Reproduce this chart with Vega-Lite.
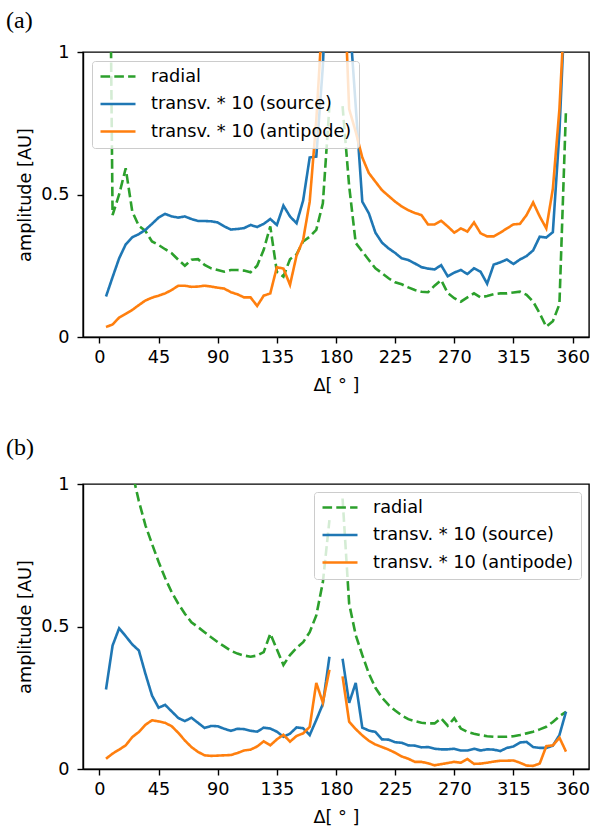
{
"$schema": "https://vega.github.io/schema/vega-lite/v6.json",
"background": "white",
"padding": {"left": 5, "top": 8, "right": 2, "bottom": 2},
"config": {
  "font": "DejaVu Sans",
  "view": {"stroke": "black", "strokeWidth": 1.4},
  "axis": {"grid": false, "domainColor": "black", "domainWidth": 1.4, "tickColor": "black", "tickWidth": 1.4, "tickSize": 6, "labelFontSize": 17.7, "labelColor": "black", "titleFontSize": 17.7, "titleFontWeight": "normal", "titleColor": "black", "labelFont": "DejaVu Sans", "titleFont": "DejaVu Sans", "labelFlush": false},
  "axisX": {"labelPadding": 5, "titlePadding": 11},
  "axisY": {"labelPadding": 8, "titlePadding": 6},
  "legend": {"labelFontSize": 17.7, "labelColor": "black", "labelFont": "DejaVu Sans"},
  "concat": {"spacing": 38}
},
"datasets": {
"a": [
{"d":5,"k":"r","v":2.9},{"d":10,"k":"r","v":0.428},{"d":15,"k":"r","v":0.5},{"d":20,"k":"r","v":0.592},{"d":25,"k":"r","v":0.44},{"d":30,"k":"r","v":0.39},{"d":35,"k":"r","v":0.372},{"d":40,"k":"r","v":0.335},{"d":45,"k":"r","v":0.323},{"d":50,"k":"r","v":0.308},{"d":55,"k":"r","v":0.294},{"d":60,"k":"r","v":0.271},{"d":65,"k":"r","v":0.25},{"d":70,"k":"r","v":0.271},{"d":75,"k":"r","v":0.273},{"d":80,"k":"r","v":0.253},{"d":85,"k":"r","v":0.241},{"d":90,"k":"r","v":0.235},{"d":95,"k":"r","v":0.229},{"d":100,"k":"r","v":0.235},{"d":105,"k":"r","v":0.235},{"d":110,"k":"r","v":0.233},{"d":115,"k":"r","v":0.227},{"d":120,"k":"r","v":0.25},{"d":125,"k":"r","v":0.306},{"d":130,"k":"r","v":0.388},{"d":135,"k":"r","v":0.229},{"d":140,"k":"r","v":0.212},{"d":145,"k":"r","v":0.273},{"d":150,"k":"r","v":0.29},{"d":155,"k":"r","v":0.335},{"d":160,"k":"r","v":0.352},{"d":165,"k":"r","v":0.376},{"d":170,"k":"r","v":0.469},{"d":175,"k":"r","v":0.81},{"d":180,"k":"r","v":null},{"d":185,"k":"r","v":0.81},{"d":190,"k":"r","v":0.53},{"d":195,"k":"r","v":0.33},{"d":200,"k":"r","v":0.3},{"d":205,"k":"r","v":0.27},{"d":210,"k":"r","v":0.241},{"d":215,"k":"r","v":0.224},{"d":220,"k":"r","v":0.206},{"d":225,"k":"r","v":0.192},{"d":230,"k":"r","v":0.185},{"d":235,"k":"r","v":0.174},{"d":240,"k":"r","v":0.165},{"d":245,"k":"r","v":0.159},{"d":250,"k":"r","v":0.157},{"d":255,"k":"r","v":0.18},{"d":260,"k":"r","v":0.2},{"d":265,"k":"r","v":0.154},{"d":270,"k":"r","v":0.136},{"d":275,"k":"r","v":0.124},{"d":280,"k":"r","v":0.139},{"d":285,"k":"r","v":0.153},{"d":290,"k":"r","v":0.139},{"d":295,"k":"r","v":0.144},{"d":300,"k":"r","v":0.15},{"d":305,"k":"r","v":0.153},{"d":310,"k":"r","v":0.153},{"d":315,"k":"r","v":0.156},{"d":320,"k":"r","v":0.159},{"d":325,"k":"r","v":0.148},{"d":330,"k":"r","v":0.124},{"d":335,"k":"r","v":0.083},{"d":340,"k":"r","v":0.036},{"d":345,"k":"r","v":0.055},{"d":350,"k":"r","v":0.115},{"d":355,"k":"r","v":0.8},
{"d":5,"k":"s","v":0.142},{"d":10,"k":"s","v":0.21},{"d":15,"k":"s","v":0.276},{"d":20,"k":"s","v":0.325},{"d":25,"k":"s","v":0.35},{"d":30,"k":"s","v":0.361},{"d":35,"k":"s","v":0.376},{"d":40,"k":"s","v":0.397},{"d":45,"k":"s","v":0.419},{"d":50,"k":"s","v":0.432},{"d":55,"k":"s","v":0.423},{"d":60,"k":"s","v":0.419},{"d":65,"k":"s","v":0.423},{"d":70,"k":"s","v":0.414},{"d":75,"k":"s","v":0.407},{"d":80,"k":"s","v":0.407},{"d":85,"k":"s","v":0.406},{"d":90,"k":"s","v":0.402},{"d":95,"k":"s","v":0.388},{"d":100,"k":"s","v":0.377},{"d":105,"k":"s","v":0.379},{"d":110,"k":"s","v":0.382},{"d":115,"k":"s","v":0.393},{"d":120,"k":"s","v":0.386},{"d":125,"k":"s","v":0.397},{"d":130,"k":"s","v":0.414},{"d":135,"k":"s","v":0.393},{"d":140,"k":"s","v":0.461},{"d":145,"k":"s","v":0.423},{"d":150,"k":"s","v":0.399},{"d":155,"k":"s","v":0.479},{"d":160,"k":"s","v":0.63},{"d":165,"k":"s","v":0.633},{"d":170,"k":"s","v":0.95},{"d":175,"k":"s","v":1.5},{"d":180,"k":"s","v":null},{"d":185,"k":"s","v":1.8},{"d":190,"k":"s","v":1.14},{"d":195,"k":"s","v":0.81},{"d":200,"k":"s","v":0.475},{"d":205,"k":"s","v":0.434},{"d":210,"k":"s","v":0.366},{"d":215,"k":"s","v":0.331},{"d":220,"k":"s","v":0.311},{"d":225,"k":"s","v":0.295},{"d":230,"k":"s","v":0.276},{"d":235,"k":"s","v":0.27},{"d":240,"k":"s","v":0.258},{"d":245,"k":"s","v":0.245},{"d":250,"k":"s","v":0.24},{"d":255,"k":"s","v":0.237},{"d":260,"k":"s","v":0.252},{"d":265,"k":"s","v":0.213},{"d":270,"k":"s","v":0.226},{"d":275,"k":"s","v":0.235},{"d":280,"k":"s","v":0.221},{"d":285,"k":"s","v":0.241},{"d":290,"k":"s","v":0.229},{"d":295,"k":"s","v":0.187},{"d":300,"k":"s","v":0.254},{"d":305,"k":"s","v":0.262},{"d":310,"k":"s","v":0.272},{"d":315,"k":"s","v":0.256},{"d":320,"k":"s","v":0.272},{"d":325,"k":"s","v":0.284},{"d":330,"k":"s","v":0.304},{"d":335,"k":"s","v":0.352},{"d":340,"k":"s","v":0.349},{"d":345,"k":"s","v":0.368},{"d":350,"k":"s","v":0.72},{"d":355,"k":"s","v":1.25},
{"d":5,"k":"a","v":0.035},{"d":10,"k":"a","v":0.044},{"d":15,"k":"a","v":0.068},{"d":20,"k":"a","v":0.081},{"d":25,"k":"a","v":0.095},{"d":30,"k":"a","v":0.112},{"d":35,"k":"a","v":0.128},{"d":40,"k":"a","v":0.138},{"d":45,"k":"a","v":0.145},{"d":50,"k":"a","v":0.153},{"d":55,"k":"a","v":0.165},{"d":60,"k":"a","v":0.18},{"d":65,"k":"a","v":0.18},{"d":70,"k":"a","v":0.176},{"d":75,"k":"a","v":0.177},{"d":80,"k":"a","v":0.18},{"d":85,"k":"a","v":0.177},{"d":90,"k":"a","v":0.173},{"d":95,"k":"a","v":0.17},{"d":100,"k":"a","v":0.157},{"d":105,"k":"a","v":0.15},{"d":110,"k":"a","v":0.139},{"d":115,"k":"a","v":0.139},{"d":120,"k":"a","v":0.109},{"d":125,"k":"a","v":0.145},{"d":130,"k":"a","v":0.153},{"d":135,"k":"a","v":0.245},{"d":140,"k":"a","v":0.24},{"d":145,"k":"a","v":0.183},{"d":150,"k":"a","v":0.286},{"d":155,"k":"a","v":0.341},{"d":160,"k":"a","v":0.475},{"d":165,"k":"a","v":0.76},{"d":170,"k":"a","v":1.15},{"d":175,"k":"a","v":1.6},{"d":180,"k":"a","v":null},{"d":185,"k":"a","v":1.39},{"d":190,"k":"a","v":0.8},{"d":195,"k":"a","v":0.72},{"d":200,"k":"a","v":0.63},{"d":205,"k":"a","v":0.575},{"d":210,"k":"a","v":0.545},{"d":215,"k":"a","v":0.515},{"d":220,"k":"a","v":0.495},{"d":225,"k":"a","v":0.475},{"d":230,"k":"a","v":0.458},{"d":235,"k":"a","v":0.445},{"d":240,"k":"a","v":0.435},{"d":245,"k":"a","v":0.428},{"d":250,"k":"a","v":0.395},{"d":255,"k":"a","v":0.395},{"d":260,"k":"a","v":0.408},{"d":265,"k":"a","v":0.388},{"d":270,"k":"a","v":0.366},{"d":275,"k":"a","v":0.381},{"d":280,"k":"a","v":0.37},{"d":285,"k":"a","v":0.402},{"d":290,"k":"a","v":0.364},{"d":295,"k":"a","v":0.353},{"d":300,"k":"a","v":0.353},{"d":305,"k":"a","v":0.366},{"d":310,"k":"a","v":0.381},{"d":315,"k":"a","v":0.395},{"d":320,"k":"a","v":0.397},{"d":325,"k":"a","v":0.428},{"d":330,"k":"a","v":0.472},{"d":335,"k":"a","v":0.423},{"d":340,"k":"a","v":0.381},{"d":345,"k":"a","v":0.52},{"d":350,"k":"a","v":0.8},{"d":355,"k":"a","v":1.25}
],
"b": [
{"d":5,"k":"r","v":3.0},{"d":10,"k":"r","v":1.8},{"d":15,"k":"r","v":1.4},{"d":20,"k":"r","v":1.18},{"d":25,"k":"r","v":1.04},{"d":30,"k":"r","v":0.94},{"d":35,"k":"r","v":0.855},{"d":40,"k":"r","v":0.79},{"d":45,"k":"r","v":0.727},{"d":50,"k":"r","v":0.67},{"d":55,"k":"r","v":0.62},{"d":60,"k":"r","v":0.58},{"d":65,"k":"r","v":0.545},{"d":70,"k":"r","v":0.515},{"d":75,"k":"r","v":0.498},{"d":80,"k":"r","v":0.48},{"d":85,"k":"r","v":0.462},{"d":90,"k":"r","v":0.445},{"d":95,"k":"r","v":0.43},{"d":100,"k":"r","v":0.415},{"d":105,"k":"r","v":0.405},{"d":110,"k":"r","v":0.398},{"d":115,"k":"r","v":0.394},{"d":120,"k":"r","v":0.398},{"d":125,"k":"r","v":0.41},{"d":130,"k":"r","v":0.475},{"d":135,"k":"r","v":0.42},{"d":140,"k":"r","v":0.365},{"d":145,"k":"r","v":0.4},{"d":150,"k":"r","v":0.425},{"d":155,"k":"r","v":0.445},{"d":160,"k":"r","v":0.48},{"d":165,"k":"r","v":0.539},{"d":170,"k":"r","v":0.655},{"d":175,"k":"r","v":0.873},{"d":180,"k":"r","v":null},{"d":185,"k":"r","v":0.949},{"d":190,"k":"r","v":0.58},{"d":195,"k":"r","v":0.47},{"d":200,"k":"r","v":0.4},{"d":205,"k":"r","v":0.335},{"d":210,"k":"r","v":0.285},{"d":215,"k":"r","v":0.25},{"d":220,"k":"r","v":0.225},{"d":225,"k":"r","v":0.205},{"d":230,"k":"r","v":0.188},{"d":235,"k":"r","v":0.175},{"d":240,"k":"r","v":0.168},{"d":245,"k":"r","v":0.162},{"d":250,"k":"r","v":0.16},{"d":255,"k":"r","v":0.16},{"d":260,"k":"r","v":0.178},{"d":265,"k":"r","v":0.152},{"d":270,"k":"r","v":0.178},{"d":275,"k":"r","v":0.142},{"d":280,"k":"r","v":0.13},{"d":285,"k":"r","v":0.124},{"d":290,"k":"r","v":0.119},{"d":295,"k":"r","v":0.115},{"d":300,"k":"r","v":0.113},{"d":305,"k":"r","v":0.113},{"d":310,"k":"r","v":0.113},{"d":315,"k":"r","v":0.115},{"d":320,"k":"r","v":0.119},{"d":325,"k":"r","v":0.125},{"d":330,"k":"r","v":0.131},{"d":335,"k":"r","v":0.139},{"d":340,"k":"r","v":0.148},{"d":345,"k":"r","v":0.165},{"d":350,"k":"r","v":0.185},{"d":355,"k":"r","v":0.201},
{"d":5,"k":"s","v":0.279},{"d":10,"k":"s","v":0.433},{"d":15,"k":"s","v":0.494},{"d":20,"k":"s","v":0.466},{"d":25,"k":"s","v":0.437},{"d":30,"k":"s","v":0.416},{"d":35,"k":"s","v":0.334},{"d":40,"k":"s","v":0.258},{"d":45,"k":"s","v":0.215},{"d":50,"k":"s","v":0.225},{"d":55,"k":"s","v":0.202},{"d":60,"k":"s","v":0.179},{"d":65,"k":"s","v":0.168},{"d":70,"k":"s","v":0.18},{"d":75,"k":"s","v":0.162},{"d":80,"k":"s","v":0.144},{"d":85,"k":"s","v":0.151},{"d":90,"k":"s","v":0.15},{"d":95,"k":"s","v":0.141},{"d":100,"k":"s","v":0.134},{"d":105,"k":"s","v":0.141},{"d":110,"k":"s","v":0.14},{"d":115,"k":"s","v":0.134},{"d":120,"k":"s","v":0.131},{"d":125,"k":"s","v":0.145},{"d":130,"k":"s","v":0.142},{"d":135,"k":"s","v":0.131},{"d":140,"k":"s","v":0.113},{"d":145,"k":"s","v":0.124},{"d":150,"k":"s","v":0.146},{"d":155,"k":"s","v":0.143},{"d":160,"k":"s","v":0.119},{"d":165,"k":"s","v":0.172},{"d":170,"k":"s","v":0.228},{"d":175,"k":"s","v":0.394},{"d":180,"k":"s","v":null},{"d":185,"k":"s","v":0.387},{"d":190,"k":"s","v":0.232},{"d":195,"k":"s","v":0.302},{"d":200,"k":"s","v":0.145},{"d":205,"k":"s","v":0.135},{"d":210,"k":"s","v":0.13},{"d":215,"k":"s","v":0.104},{"d":220,"k":"s","v":0.103},{"d":225,"k":"s","v":0.094},{"d":230,"k":"s","v":0.092},{"d":235,"k":"s","v":0.083},{"d":240,"k":"s","v":0.082},{"d":245,"k":"s","v":0.076},{"d":250,"k":"s","v":0.077},{"d":255,"k":"s","v":0.071},{"d":260,"k":"s","v":0.069},{"d":265,"k":"s","v":0.069},{"d":270,"k":"s","v":0.071},{"d":275,"k":"s","v":0.065},{"d":280,"k":"s","v":0.065},{"d":285,"k":"s","v":0.071},{"d":290,"k":"s","v":0.065},{"d":295,"k":"s","v":0.069},{"d":300,"k":"s","v":0.068},{"d":305,"k":"s","v":0.063},{"d":310,"k":"s","v":0.074},{"d":315,"k":"s","v":0.079},{"d":320,"k":"s","v":0.093},{"d":325,"k":"s","v":0.095},{"d":330,"k":"s","v":0.077},{"d":335,"k":"s","v":0.074},{"d":340,"k":"s","v":0.074},{"d":345,"k":"s","v":0.082},{"d":350,"k":"s","v":0.119},{"d":355,"k":"s","v":0.201},
{"d":5,"k":"a","v":0.036},{"d":10,"k":"a","v":0.054},{"d":15,"k":"a","v":0.068},{"d":20,"k":"a","v":0.083},{"d":25,"k":"a","v":0.112},{"d":30,"k":"a","v":0.13},{"d":35,"k":"a","v":0.155},{"d":40,"k":"a","v":0.171},{"d":45,"k":"a","v":0.167},{"d":50,"k":"a","v":0.162},{"d":55,"k":"a","v":0.15},{"d":60,"k":"a","v":0.127},{"d":65,"k":"a","v":0.1},{"d":70,"k":"a","v":0.077},{"d":75,"k":"a","v":0.06},{"d":80,"k":"a","v":0.048},{"d":85,"k":"a","v":0.046},{"d":90,"k":"a","v":0.047},{"d":95,"k":"a","v":0.048},{"d":100,"k":"a","v":0.049},{"d":105,"k":"a","v":0.056},{"d":110,"k":"a","v":0.065},{"d":115,"k":"a","v":0.068},{"d":120,"k":"a","v":0.079},{"d":125,"k":"a","v":0.097},{"d":130,"k":"a","v":0.083},{"d":135,"k":"a","v":0.104},{"d":140,"k":"a","v":0.12},{"d":145,"k":"a","v":0.096},{"d":150,"k":"a","v":0.116},{"d":155,"k":"a","v":0.125},{"d":160,"k":"a","v":0.148},{"d":165,"k":"a","v":0.302},{"d":170,"k":"a","v":0.233},{"d":175,"k":"a","v":0.348},{"d":180,"k":"a","v":null},{"d":185,"k":"a","v":0.325},{"d":190,"k":"a","v":0.166},{"d":195,"k":"a","v":0.14},{"d":200,"k":"a","v":0.118},{"d":205,"k":"a","v":0.099},{"d":210,"k":"a","v":0.086},{"d":215,"k":"a","v":0.077},{"d":220,"k":"a","v":0.068},{"d":225,"k":"a","v":0.057},{"d":230,"k":"a","v":0.044},{"d":235,"k":"a","v":0.036},{"d":240,"k":"a","v":0.025},{"d":245,"k":"a","v":0.025},{"d":250,"k":"a","v":0.02},{"d":255,"k":"a","v":0.013},{"d":260,"k":"a","v":0.017},{"d":265,"k":"a","v":0.021},{"d":270,"k":"a","v":0.025},{"d":275,"k":"a","v":0.022},{"d":280,"k":"a","v":0.035},{"d":285,"k":"a","v":0.018},{"d":290,"k":"a","v":0.019},{"d":295,"k":"a","v":0.022},{"d":300,"k":"a","v":0.026},{"d":305,"k":"a","v":0.029},{"d":310,"k":"a","v":0.029},{"d":315,"k":"a","v":0.03},{"d":320,"k":"a","v":0.022},{"d":325,"k":"a","v":0.012},{"d":330,"k":"a","v":0.011},{"d":335,"k":"a","v":0.019},{"d":340,"k":"a","v":0.08},{"d":345,"k":"a","v":0.083},{"d":350,"k":"a","v":0.11},{"d":355,"k":"a","v":0.061}
]
},
"vconcat": [
{
  "title": {"text": "(a)", "anchor": "start", "frame": "group", "dx": -77, "offset": -9, "font": "Liberation Serif", "fontSize": 24, "fontWeight": "normal", "baseline": "alphabetic", "color": "black"},
  "width": 506, "height": 285,
  "data": {"name": "a"},
  "mark": {"type": "line", "clip": true, "strokeWidth": 2.6, "invalid": "break-paths-show-domains"},
  "encoding": {
    "x": {"field": "d", "type": "quantitative", "scale": {"domain": [-12.5, 372.5], "nice": false, "zero": false}, "axis": {"values": [0,45,90,135,180,225,270,315,360], "title": "Δ[ ° ]"}},
    "y": {"field": "v", "type": "quantitative", "scale": {"domain": [0, 1], "nice": false}, "axis": {"values": [0, 0.5, 1], "format": "~g", "title": "amplitude [AU]"}},
    "color": {"field": "k", "type": "nominal", "sort": ["r","s","a"], "scale": {"domain": ["r","s","a"], "range": ["#2ca02c","#1f77b4","#ff7f0e"]},
      "legend": {"title": null, "orient": "top-left", "offset": 9, "labelExpr": "datum.value == 'r' ? 'radial' : datum.value == 's' ? 'transv. * 10 (source)' : 'transv. * 10 (antipode)'", "symbolType": "stroke", "symbolSize": 1225, "symbolStrokeWidth": 2.6, "labelFontSize": 17.7, "labelOffset": 14, "labelLimit": 400, "padding": 7, "fillColor": "rgba(255,255,255,0.8)", "strokeColor": "#cccccc", "cornerRadius": 3, "clipHeight": 17, "rowPadding": 8.5}},
    "strokeDash": {"field": "k", "type": "nominal", "sort": ["r","s","a"], "scale": {"domain": ["r","s","a"], "range": [[9.6,4.2],[1,0],[1,0]]},
      "legend": {"title": null, "orient": "top-left", "offset": 9, "labelExpr": "datum.value == 'r' ? 'radial' : datum.value == 's' ? 'transv. * 10 (source)' : 'transv. * 10 (antipode)'", "symbolType": "stroke", "symbolSize": 1225, "symbolStrokeWidth": 2.6, "labelFontSize": 17.7, "labelOffset": 14, "labelLimit": 400, "padding": 7, "fillColor": "rgba(255,255,255,0.8)", "strokeColor": "#cccccc", "cornerRadius": 3, "clipHeight": 17, "rowPadding": 8.5}}
  }
},
{
  "title": {"text": "(b)", "anchor": "start", "frame": "group", "dx": -77, "offset": -3.5, "font": "Liberation Serif", "fontSize": 24, "fontWeight": "normal", "baseline": "alphabetic", "color": "black"},
  "width": 506, "height": 285,
  "data": {"name": "b"},
  "mark": {"type": "line", "clip": true, "strokeWidth": 2.6, "invalid": "break-paths-show-domains"},
  "encoding": {
    "x": {"field": "d", "type": "quantitative", "scale": {"domain": [-12.5, 372.5], "nice": false, "zero": false}, "axis": {"values": [0,45,90,135,180,225,270,315,360], "title": "Δ[ ° ]"}},
    "y": {"field": "v", "type": "quantitative", "scale": {"domain": [0, 1], "nice": false}, "axis": {"values": [0, 0.5, 1], "format": "~g", "title": "amplitude [AU]"}},
    "color": {"field": "k", "type": "nominal", "sort": ["r","s","a"], "scale": {"domain": ["r","s","a"], "range": ["#2ca02c","#1f77b4","#ff7f0e"]},
      "legend": {"title": null, "orient": "top-right", "offset": 8, "labelExpr": "datum.value == 'r' ? 'radial' : datum.value == 's' ? 'transv. * 10 (source)' : 'transv. * 10 (antipode)'", "symbolType": "stroke", "symbolSize": 1225, "symbolStrokeWidth": 2.6, "labelFontSize": 17.7, "labelOffset": 14, "labelLimit": 400, "padding": 7, "fillColor": "rgba(255,255,255,0.8)", "strokeColor": "#cccccc", "cornerRadius": 3, "clipHeight": 17, "rowPadding": 8.5}},
    "strokeDash": {"field": "k", "type": "nominal", "sort": ["r","s","a"], "scale": {"domain": ["r","s","a"], "range": [[9.6,4.2],[1,0],[1,0]]},
      "legend": {"title": null, "orient": "top-right", "offset": 8, "labelExpr": "datum.value == 'r' ? 'radial' : datum.value == 's' ? 'transv. * 10 (source)' : 'transv. * 10 (antipode)'", "symbolType": "stroke", "symbolSize": 1225, "symbolStrokeWidth": 2.6, "labelFontSize": 17.7, "labelOffset": 14, "labelLimit": 400, "padding": 7, "fillColor": "rgba(255,255,255,0.8)", "strokeColor": "#cccccc", "cornerRadius": 3, "clipHeight": 17, "rowPadding": 8.5}}
  }
}
],
"resolve": {"scale": {"color": "independent", "strokeDash": "independent"}, "legend": {"color": "independent", "strokeDash": "independent"}}
}
